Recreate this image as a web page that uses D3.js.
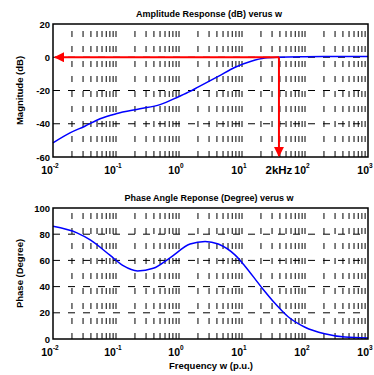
<!DOCTYPE html>
<html>
<head>
<meta charset="utf-8">
<script src="https://cdn.jsdelivr.net/npm/d3@7"></script>
<style>
body { margin: 0; background: #fff; }
text { font-family: "Liberation Sans", Arial, sans-serif; font-weight: bold; }
</style>
</head>
<body>
<main></main>
<script>
// amplitude response (dB) vs w (p.u.)
const ampW  = [0.01, 0.0186, 0.032, 0.056, 0.1, 0.24, 0.5, 1, 1.5, 2, 4.2, 7.8, 14, 23, 37, 100, 300, 1000];
const ampDb = [-51.5, -45.5, -41.5, -37, -34, -31, -28.5, -23.6, -20.5, -18, -11.5, -6, -2.4, -0.5, 0, 0.3, 0.4, 0.4];

// phase response (degree) vs w (p.u.)
const phW   = [0.01, 0.024, 0.039, 0.08, 0.13, 0.22, 0.39, 0.72, 1.5, 2.6, 4.2, 7.8, 11, 20, 33, 54, 100, 205, 430, 1000];
const phDeg = [86, 81, 75.6, 64, 56, 52, 54, 62, 72.5, 74.5, 72.5, 64, 56, 40, 27.5, 17, 9, 4, 1.5, 0.8];

const ampTicks = [-60, -40, -20, 0, 20];
const ampGrid  = [-40, -20, 0];
const phTicks  = [0, 20, 40, 60, 80, 100];
const phGrid   = [20, 40, 60, 80];
const decades  = [-2, -1, 0, 1, 2, 3];
const wCross = 38.6; // 2kHz point

const w = 374, h = 375;
const left = 53, right = 368;

const svg = d3.select("main").append("svg")
	.attr("width", w)
	.attr("height", h);

const xScale = d3.scaleLog().domain([0.01, 1000]).range([left, right]);

// grid positions 1..9 per decade
const gridX = [];
for (let e = -2; e < 3; e++) {
	for (let k = 1; k < 10; k++) gridX.push(k * Math.pow(10, e));
}

function panel(top, bottom, yDomain, yTicks, hGrid, wData, yData, title, ylabel) {
	const yScale = d3.scaleLinear().domain(yDomain).range([bottom, top]);
	const g = svg.append("g");

	// vertical dashed grid
	g.selectAll("line.vg")
		.data(gridX.filter(d => d > 0.01 && d < 1000))
		.enter().append("line")
		.attr("x1", d => xScale(d)).attr("x2", d => xScale(d))
		.attr("y1", bottom).attr("y2", top)
		.attr("stroke", "#000")
		.attr("stroke-width", 1)
		.attr("stroke-dasharray", "6,9");

	// horizontal dashed grid
	g.selectAll("line.hg")
		.data(hGrid)
		.enter().append("line")
		.attr("x1", left).attr("x2", right)
		.attr("y1", d => yScale(d)).attr("y2", d => yScale(d))
		.attr("stroke", "#000")
		.attr("stroke-width", 1)
		.attr("stroke-dasharray", "7,8");

	// curve
	const line = d3.line()
		.x((d, i) => xScale(wData[i]))
		.y(d => yScale(d))
		.curve(d3.curveMonotoneX);
	g.append("path")
		.datum(yData)
		.attr("d", line)
		.attr("fill", "none")
		.attr("stroke", "#0000ff")
		.attr("stroke-width", 1.5);

	// box
	g.append("rect")
		.attr("x", left).attr("y", top)
		.attr("width", right - left).attr("height", bottom - top)
		.attr("fill", "none")
		.attr("stroke", "#000")
		.attr("stroke-width", 1.5);

	// y ticks
	g.selectAll("text.yt")
		.data(yTicks)
		.enter().append("text")
		.attr("x", left - 3)
		.attr("y", d => yScale(d) + 3.5)
		.attr("text-anchor", "end")
		.style("font-size", "9.5px")
		.text(d => d);

	// x ticks: 10^n
	const xt = g.selectAll("text.xt")
		.data(decades)
		.enter().append("text")
		.attr("x", d => xScale(Math.pow(10, d)) - 3)
		.attr("y", bottom + 17)
		.attr("text-anchor", "middle")
		.style("font-size", "10.5px");
	xt.append("tspan").text("10");
	xt.append("tspan")
		.attr("dy", -6)
		.style("font-size", "6.5px")
		.text(d => d);

	g.append("text")
		.attr("x", 209)
		.attr("y", top - 7)
		.attr("text-anchor", "middle")
		.style("font-size", "9px")
		.text(title);

	g.append("text")
		.attr("transform", "rotate(-90)")
		.attr("x", -(top + bottom) / 2)
		.attr("y", 23)
		.attr("text-anchor", "middle")
		.style("font-size", "9.5px")
		.text(ylabel);

	return yScale;
}

const yAmp = panel(24, 157, [-60, 20], ampTicks, ampGrid, ampW, ampDb,
	"Amplitude Response (dB) verus w", "Magnitude (dB)");

panel(208, 339, [0, 100], phTicks, phGrid, phW, phDeg,
	"Phase Angle Reponse (Degree) verus w", "Phase (Degree)");

// red arrows at 2kHz
const defs = svg.append("defs");
defs.append("marker")
	.attr("id", "arr")
	.attr("viewBox", "0 0 10 10")
	.attr("refX", 9).attr("refY", 5)
	.attr("markerWidth", 5).attr("markerHeight", 5)
	.attr("markerUnits", "strokeWidth")
	.attr("orient", "auto")
	.append("path")
	.attr("d", "M0,0 L10,5 L0,10 Z")
	.attr("fill", "#ff0000");

svg.append("line")
	.attr("x1", xScale(wCross)).attr("x2", left + 2)
	.attr("y1", yAmp(0)).attr("y2", yAmp(0))
	.attr("stroke", "#ff0000")
	.attr("stroke-width", 2)
	.attr("marker-end", "url(#arr)");

svg.append("line")
	.attr("x1", xScale(wCross)).attr("x2", xScale(wCross))
	.attr("y1", yAmp(0)).attr("y2", yAmp(-60) - 1)
	.attr("stroke", "#ff0000")
	.attr("stroke-width", 2)
	.attr("marker-end", "url(#arr)");

svg.append("text")
	.attr("x", xScale(wCross))
	.attr("y", 174)
	.attr("text-anchor", "middle")
	.style("font-size", "11.5px")
	.text("2kHz");

svg.append("text")
	.attr("x", 211)
	.attr("y", 369)
	.attr("text-anchor", "middle")
	.style("font-size", "9.5px")
	.text("Frequency w (p.u.)");
</script>
</body>
</html>
